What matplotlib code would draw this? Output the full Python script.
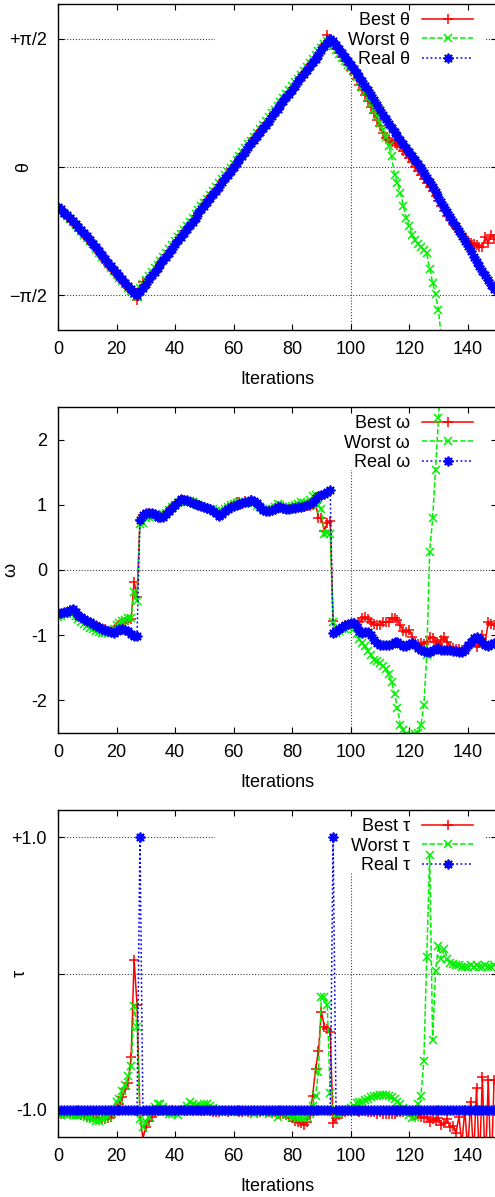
import numpy as np
import matplotlib
matplotlib.use("Agg")
from matplotlib import pyplot as plt
from matplotlib.patches import Rectangle

plt.rcParams['font.family'] = ['Liberation Sans', 'DejaVu Sans']
plt.rcParams['font.size'] = 13

# ---- theta (rad) ----
best_theta = [
    -0.50, -0.54, -0.57, -0.61, -0.64, -0.68, -0.72, -0.75, -0.79, -0.83,
    -0.87, -0.91, -0.96, -1.00, -1.05, -1.10, -1.15, -1.20, -1.24, -1.28,
    -1.32, -1.36, -1.40, -1.44, -1.48, -1.52, -1.56, -1.63, -1.50, -1.41,
    -1.41, -1.37, -1.32, -1.27, -1.23, -1.18, -1.13, -1.08, -1.03, -0.99,
    -0.94, -0.89, -0.84, -0.79, -0.75, -0.70, -0.65, -0.60, -0.56, -0.51,
    -0.46, -0.41, -0.37, -0.32, -0.27, -0.22, -0.18, -0.13, -0.08, -0.03,
    0.01, 0.06, 0.11, 0.16, 0.20, 0.25, 0.30, 0.35, 0.39, 0.44,
    0.49, 0.54, 0.58, 0.63, 0.68, 0.73, 0.77, 0.82, 0.87, 0.92,
    0.96, 1.01, 1.06, 1.11, 1.15, 1.20, 1.25, 1.30, 1.34, 1.39,
    1.44, 1.50, 1.62, 1.55, 1.50, 1.45, 1.40, 1.35, 1.30, 1.25,
    1.19, 1.14, 1.08, 1.01, 0.95, 0.88, 0.81, 0.74, 0.66, 0.58,
    0.50, 0.42, 0.36, 0.33, 0.31, 0.29, 0.27, 0.24, 0.20, 0.16,
    0.11, 0.06, 0.00, -0.05, -0.10, -0.15, -0.20, -0.25, -0.30, -0.36,
    -0.42, -0.48, -0.54, -0.60, -0.65, -0.70, -0.75, -0.80, -0.84, -0.88,
    -0.91, -0.93, -0.95, -0.96, -0.98, -0.98, -0.86, -0.93, -0.83, -0.88,
]
worst_theta = [
    -0.50, -0.53, -0.57, -0.60, -0.64, -0.68, -0.71, -0.75, -0.79, -0.83,
    -0.87, -0.91, -0.95, -1.00, -1.05, -1.10, -1.14, -1.19, -1.24, -1.28,
    -1.32, -1.36, -1.40, -1.44, -1.48, -1.52, -1.56, -1.60, -1.48, -1.44,
    -1.39, -1.34, -1.29, -1.24, -1.20, -1.15, -1.10, -1.05, -1.01, -0.96,
    -0.91, -0.86, -0.82, -0.77, -0.72, -0.67, -0.63, -0.58, -0.53, -0.48,
    -0.44, -0.39, -0.34, -0.29, -0.25, -0.20, -0.15, -0.10, -0.06, -0.01,
    0.04, 0.09, 0.13, 0.18, 0.23, 0.28, 0.32, 0.37, 0.42, 0.47,
    0.51, 0.56, 0.61, 0.66, 0.70, 0.75, 0.80, 0.85, 0.89, 0.94,
    0.99, 1.04, 1.08, 1.13, 1.18, 1.23, 1.27, 1.32, 1.37, 1.42,
    1.46, 1.51, 1.55, 1.53, 1.49, 1.44, 1.39, 1.34, 1.30, 1.25,
    1.21, 1.16, 1.10, 1.04, 0.98, 0.92, 0.86, 0.79, 0.71, 0.62,
    0.54, 0.46, 0.37, 0.26, 0.13, -0.10, -0.20, -0.32, -0.48, -0.62,
    -0.73, -0.83, -0.89, -0.94, -0.98, -1.02, -1.06, -1.25, -1.42, -1.56,
    -1.76, -2.10, -2.50,
]
real_theta = [
    -0.49, -0.52, -0.56, -0.59, -0.63, -0.66, -0.70, -0.74, -0.77, -0.81,
    -0.85, -0.89, -0.94, -0.98, -1.03, -1.08, -1.13, -1.18, -1.22, -1.26,
    -1.30, -1.34, -1.38, -1.42, -1.46, -1.50, -1.54, -1.57, -1.52, -1.48,
    -1.43, -1.38, -1.33, -1.29, -1.24, -1.19, -1.14, -1.10, -1.05, -1.00,
    -0.95, -0.90, -0.86, -0.81, -0.76, -0.71, -0.67, -0.62, -0.57, -0.52,
    -0.48, -0.43, -0.38, -0.33, -0.29, -0.24, -0.19, -0.14, -0.10, -0.05,
    0.00, 0.05, 0.10, 0.14, 0.19, 0.24, 0.29, 0.33, 0.38, 0.43,
    0.48, 0.52, 0.57, 0.62, 0.67, 0.71, 0.76, 0.81, 0.86, 0.90,
    0.95, 1.00, 1.05, 1.10, 1.14, 1.19, 1.24, 1.29, 1.33, 1.38,
    1.43, 1.48, 1.52, 1.57, 1.54, 1.50, 1.45, 1.40, 1.35, 1.30,
    1.25, 1.20, 1.15, 1.10, 1.05, 0.99, 0.94, 0.88, 0.82, 0.76,
    0.70, 0.64, 0.59, 0.53, 0.48, 0.43, 0.38, 0.33, 0.28, 0.23,
    0.19, 0.14, 0.09, 0.04, -0.01, -0.07, -0.13, -0.19, -0.25, -0.31,
    -0.37, -0.43, -0.49, -0.55, -0.61, -0.67, -0.73, -0.79, -0.85, -0.91,
    -0.97, -1.03, -1.10, -1.16, -1.22, -1.28, -1.33, -1.39, -1.45, -1.50,
]

# ---- omega ----
best_omega = [
    -0.68, -0.67, -0.66, -0.64, -0.62, -0.62, -0.66, -0.70, -0.73, -0.76,
    -0.79, -0.82, -0.84, -0.86, -0.88, -0.90, -0.91, -0.93, -0.94, -0.92,
    -0.87, -0.84, -0.81, -0.79, -0.76, -0.75, -0.18, -0.41, 0.77, 0.84,
    0.86, 0.87, 0.86, 0.85, 0.82, 0.81, 0.83, 0.87, 0.91, 0.96,
    1.01, 1.04, 1.07, 1.07, 1.06, 1.05, 1.04, 1.02, 1.00, 0.98,
    0.96, 0.94, 0.93, 0.91, 0.88, 0.85, 0.88, 0.92, 0.95, 0.98,
    1.01, 1.05, 1.04, 1.03, 1.06, 1.05, 1.07, 1.05, 1.01, 0.97,
    0.93, 0.91, 0.91, 0.92, 0.95, 0.98, 0.96, 0.94, 0.94, 0.93,
    0.94, 0.95, 0.96, 0.97, 0.97, 0.98, 0.98, 1.00, 1.02, 0.80,
    0.79, 0.60, 0.72, 0.75, -0.78, -0.97, -0.92, -0.88, -0.85, -0.84,
    -0.83, -0.82, -0.84, -0.80, -0.74, -0.72, -0.75, -0.79, -0.83, -0.85,
    -0.84, -0.80, -0.79, -0.79, -0.74, -0.73, -0.77, -0.85, -0.93, -0.95,
    -0.92, -1.02, -1.12, -1.13, -1.12, -1.13, -1.10, -1.03, -1.04, -1.10,
    -1.13, -1.07, -1.02, -1.10, -1.18, -1.20, -1.21, -1.21, -1.22, -1.20,
    -1.17, -1.12, -1.10, -1.18, -1.12, -1.00, -1.10, -0.80, -0.83, -0.85,
]
worst_omega = [
    -0.72, -0.70, -0.68, -0.67, -0.66, -0.66, -0.70, -0.75, -0.79, -0.83,
    -0.86, -0.89, -0.91, -0.93, -0.95, -0.96, -0.96, -0.97, -0.96, -0.90,
    -0.85, -0.82, -0.78, -0.76, -0.74, -0.73, -0.33, -0.48, 0.70, 0.72,
    0.80, 0.82, 0.82, 0.83, 0.82, 0.83, 0.86, 0.88, 0.92, 0.97,
    1.00, 1.03, 1.04, 1.05, 1.05, 1.06, 1.04, 1.01, 0.99, 0.98,
    0.97, 0.95, 0.94, 0.93, 0.91, 0.88, 0.90, 0.93, 0.96, 0.99,
    1.01, 1.02, 1.04, 1.03, 1.04, 1.05, 1.05, 1.02, 0.98, 0.96,
    0.94, 0.93, 0.92, 0.94, 0.97, 1.01, 0.99, 0.97, 0.95, 0.96,
    0.98, 1.00, 1.01, 1.04, 1.02, 1.03, 1.08, 1.13, 1.15, 1.00,
    0.93, 0.55, 0.57, 0.55, -0.80, -0.97, -0.94, -0.91, -0.90, -0.88,
    -0.86, -0.90, -0.98, -1.06, -1.12, -1.17, -1.24, -1.31, -1.38, -1.40,
    -1.42, -1.47, -1.52, -1.60, -1.72, -1.90, -2.12, -2.38, -2.46, -2.52,
    -2.55, -2.55, -2.52, -2.50, -2.38, -2.07, -1.30, 0.28, 0.79, 1.54,
    2.33, 3.10,
]
real_omega = [
    -0.66, -0.66, -0.65, -0.64, -0.62, -0.60, -0.64, -0.70, -0.72, -0.75,
    -0.78, -0.80, -0.83, -0.86, -0.88, -0.90, -0.92, -0.93, -0.95, -0.97,
    -0.93, -0.91, -0.91, -0.92, -0.94, -0.98, -1.01, -1.01, 0.77, 0.85,
    0.87, 0.87, 0.87, 0.86, 0.82, 0.81, 0.82, 0.86, 0.90, 0.95,
    1.00, 1.05, 1.09, 1.08, 1.07, 1.04, 1.02, 1.01, 1.00, 0.98,
    0.96, 0.95, 0.93, 0.90, 0.87, 0.83, 0.86, 0.91, 0.94, 0.96,
    0.98, 1.00, 1.01, 1.02, 1.04, 1.05, 1.07, 1.06, 1.02, 0.97,
    0.92, 0.90, 0.90, 0.92, 0.94, 0.97, 0.96, 0.95, 0.94, 0.94,
    0.95, 0.95, 0.96, 0.97, 0.98, 0.99, 1.01, 1.05, 1.10, 1.13,
    1.15, 1.17, 1.20, 1.22, -0.97, -0.94, -0.90, -0.87, -0.84, -0.83,
    -0.82, -0.82, -0.87, -0.93, -0.97, -0.95, -0.95, -1.00, -1.07, -1.12,
    -1.15, -1.15, -1.15, -1.15, -1.14, -1.11, -1.11, -1.13, -1.16, -1.17,
    -1.14, -1.12, -1.15, -1.20, -1.23, -1.24, -1.25, -1.25, -1.23, -1.21,
    -1.20, -1.22, -1.23, -1.22, -1.23, -1.24, -1.24, -1.25, -1.25, -1.22,
    -1.15, -1.10, -1.04, -1.02, -1.06, -1.10, -1.15, -1.17, -1.13, -1.12,
]

# ---- tau ----
best_tau = [
    -1.02, -1.03, -1.03, -1.02, -1.03, -1.03, -1.03, -1.03, -1.04, -1.04,
    -1.05, -1.05, -1.05, -1.06, -1.06, -1.07, -1.07, -1.06, -1.05, -1.03,
    -1.00, -0.96, -0.91, -0.85, -0.80, -0.61, 0.10, -0.23, -1.04, -1.21,
    -1.13, -1.08, -1.05, -1.02, -1.01, -1.00, -1.01, -1.00, -1.01, -1.00,
    -1.01, -1.01, -1.00, -1.00, -1.01, -1.00, -1.01, -1.00, -1.00, -1.01,
    -1.01, -1.00, -1.01, -1.02, -1.02, -1.02, -1.01, -1.01, -1.02, -1.01,
    -1.01, -1.01, -1.02, -1.02, -1.01, -1.02, -1.02, -1.01, -1.02, -1.02,
    -1.01, -1.02, -1.02, -1.02, -1.02, -1.03, -1.03, -1.03, -1.04, -1.05,
    -1.06, -1.08, -1.09, -1.10, -1.11, -1.09, -1.04, -0.90, -0.70, -0.57,
    -0.28, -0.39, -0.41, -0.43, -1.10, -1.06, -1.04, -1.03, -1.02, -1.01,
    -1.01, -1.01, -1.01, -1.02, -1.01, -1.01, -1.02, -1.02, -1.02, -1.03,
    -1.02, -1.03, -1.03, -1.03, -1.03, -1.03, -1.02, -1.02, -1.02, -1.01,
    -1.02, -1.03, -1.04, -1.03, -1.05, -1.06, -1.05, -1.09, -1.07, -1.08,
    -1.06, -1.11, -1.10, -1.07, -1.13, -1.12, -1.17, -1.05, -1.25, -1.00,
    -1.30, -0.94, -1.35, -0.84, -1.40, -0.76, -1.45, -0.78, -1.50, -0.78,
]
worst_tau = [
    -1.03, -1.04, -1.03, -1.04, -1.03, -1.04, -1.04, -1.04, -1.04, -1.04,
    -1.05, -1.06, -1.07, -1.08, -1.08, -1.07, -1.06, -1.05, -1.03, -1.00,
    -0.94, -0.92, -0.86, -0.82, -0.75, -0.68, -0.24, -0.39, -1.07, -1.13,
    -1.09, -1.05, -1.02, -0.98, -0.96, -0.96, -0.98, -1.01, -1.03, -1.03,
    -1.02, -1.04, -1.02, -1.00, -0.97, -0.94, -0.96, -0.97, -0.97, -0.97,
    -0.96, -0.96, -0.97, -0.99, -1.00, -1.01, -1.01, -1.01, -1.01, -1.02,
    -1.02, -1.01, -1.01, -1.02, -1.01, -1.02, -1.02, -1.03, -1.02, -1.01,
    -1.02, -1.02, -1.03, -1.02, -1.03, -1.05, -1.03, -1.02, -1.03, -1.04,
    -1.05, -1.05, -1.06, -1.06, -1.06, -1.05, -1.03, -0.97, -0.90, -0.72,
    -0.17, -0.17, -0.23, -0.88, -1.02, -1.03, -1.03, -1.02, -1.01, -1.00,
    -0.99, -0.97, -0.95, -0.94, -0.94, -0.93, -0.92, -0.91, -0.90, -0.90,
    -0.89, -0.89, -0.89, -0.90, -0.91, -0.92, -0.94, -0.96, -0.99, -1.02,
    -1.04, -1.06, -1.05, -0.96, -0.90, -0.64, 0.12, 0.87, -0.49, 0.02,
    0.20, 0.11, 0.18, 0.11, 0.08, 0.07, 0.06, 0.06, 0.05, 0.05,
    0.05, 0.06, 0.05, 0.06, 0.05, 0.05, 0.06, 0.05, 0.05, 0.06,
]
real_tau = [
    -1.0, -1.0, -1.0, -1.0, -1.0, -1.0, -1.0, -1.0, -1.0, -1.0,
    -1.0, -1.0, -1.0, -1.0, -1.0, -1.0, -1.0, -1.0, -1.0, -1.0,
    -1.0, -1.0, -1.0, -1.0, -1.0, -1.0, -1.0, -1.0, 1.0, -1.0,
    -1.0, -1.0, -1.0, -1.0, -1.0, -1.0, -1.0, -1.0, -1.0, -1.0,
    -1.0, -1.0, -1.0, -1.0, -1.0, -1.0, -1.0, -1.0, -1.0, -1.0,
    -1.0, -1.0, -1.0, -1.0, -1.0, -1.0, -1.0, -1.0, -1.0, -1.0,
    -1.0, -1.0, -1.0, -1.0, -1.0, -1.0, -1.0, -1.0, -1.0, -1.0,
    -1.0, -1.0, -1.0, -1.0, -1.0, -1.0, -1.0, -1.0, -1.0, -1.0,
    -1.0, -1.0, -1.0, -1.0, -1.0, -1.0, -1.0, -1.0, -1.0, -1.0,
    -1.0, -1.0, -1.0, -1.0, 1.0, -1.0, -1.0, -1.0, -1.0, -1.0,
    -1.0, -1.0, -1.0, -1.0, -1.0, -1.0, -1.0, -1.0, -1.0, -1.0,
    -1.0, -1.0, -1.0, -1.0, -1.0, -1.0, -1.0, -1.0, -1.0, -1.0,
    -1.0, -1.0, -1.0, -1.0, -1.0, -1.0, -1.0, -1.0, -1.0, -1.0,
    -1.0, -1.0, -1.0, -1.0, -1.0, -1.0, -1.0, -1.0, -1.0, -1.0,
    -1.0, -1.0, -1.0, -1.0, -1.0, -1.0, -1.0, -1.0, -1.0, -1.0,
]

xticks = [0, 20, 40, 60, 80, 100, 120, 140]

theta_ticks = [-np.pi / 2, 0, np.pi / 2]
theta_ticklabels = ['\u2212\u03c0/2', '', '+\u03c0/2']
omega_ticks = [-2, -1, 0, 1, 2]
omega_ticklabels = ['-2', '-1', '0', '1', '2']
tau_ticks = [-1.0, 0.0, 1.0]
tau_ticklabels = ['-1.0', '', '+1.0']

GRID = dict(color='#404040', lw=0.8, dashes=(1, 1.6), zorder=1)


def draw_panel(ax, best, worst, real, sym, ylim, yticks, yticklabels,
               grid_y, ylabel_x):
    x_best = np.arange(len(best))
    x_worst = np.arange(len(worst))
    x_real = np.arange(len(real))

    for y in grid_y:
        ax.axhline(y, **GRID)
    ax.axvline(100, **GRID)

    # white key background hides the grid but stays under the curves
    ax.add_patch(Rectangle((0.3576, 0.807), 0.6151, 0.193,
                           transform=ax.transAxes, facecolor='white',
                           edgecolor='none', zorder=1.5))

    ax.plot(x_best, best, color='#ff0000', lw=1.1, marker='+', ms=7,
            mew=1.1, label='Best ' + sym, zorder=2)
    ax.plot(x_worst, worst, color='#00f000', lw=1.1, ls=(0, (3.5, 1.5)),
            marker='x', ms=5.5, mew=1.1, label='Worst ' + sym, zorder=2.1)
    ax.plot(x_real, real, color='#0000ff', lw=1.1, ls=(0, (1.2, 1.6)),
            marker=(8, 2, 0), ms=7, mew=1.3, label='Real ' + sym, zorder=2.2)

    ax.set_xlim(0, 150)
    ax.set_ylim(*ylim)
    ax.set_xticks(xticks)
    ax.set_yticks(yticks)
    ax.set_yticklabels(yticklabels)
    ax.tick_params(direction='in', length=4, width=0.8, top=True,
                   right=True, pad=8)
    for s in ax.spines.values():
        s.set_linewidth(1.0)

    ax.set_xlabel('Iterations', labelpad=9)
    ax.set_ylabel(sym, rotation=90, va='center')
    ax.yaxis.set_label_coords(ylabel_x, 0.5)

    leg = ax.legend(loc='upper right', bbox_to_anchor=(0.9453, 0.975),
                    frameon=False, markerfirst=False, borderaxespad=0.0,
                    borderpad=0.0, handlelength=2.8, handletextpad=0.7,
                    labelspacing=0.14, numpoints=1)
    leg.set_zorder(1.8)


fig = plt.figure(figsize=(4.95, 11.97), dpi=100)
left, width = 58 / 495, 439 / 495

ax1 = fig.add_axes([left, 1 - 330 / 1197, width, 326 / 1197])
draw_panel(ax1, best_theta, worst_theta, real_theta, '\u03b8', (-2, 2),
           theta_ticks, theta_ticklabels, theta_ticks, -0.078)

ax2 = fig.add_axes([left, 1 - 733 / 1197, width, 326 / 1197])
draw_panel(ax2, best_omega, worst_omega, real_omega, '\u03c9', (-2.5, 2.5),
           omega_ticks, omega_ticklabels, [0], -0.108)

ax3 = fig.add_axes([left, 1 - 1137 / 1197, width, 327 / 1197])
draw_panel(ax3, best_tau, worst_tau, real_tau, '\u03c4', (-1.2, 1.2),
           tau_ticks, tau_ticklabels, tau_ticks, -0.085)

fig.savefig('out.png', dpi=100)
plt.close(fig)
